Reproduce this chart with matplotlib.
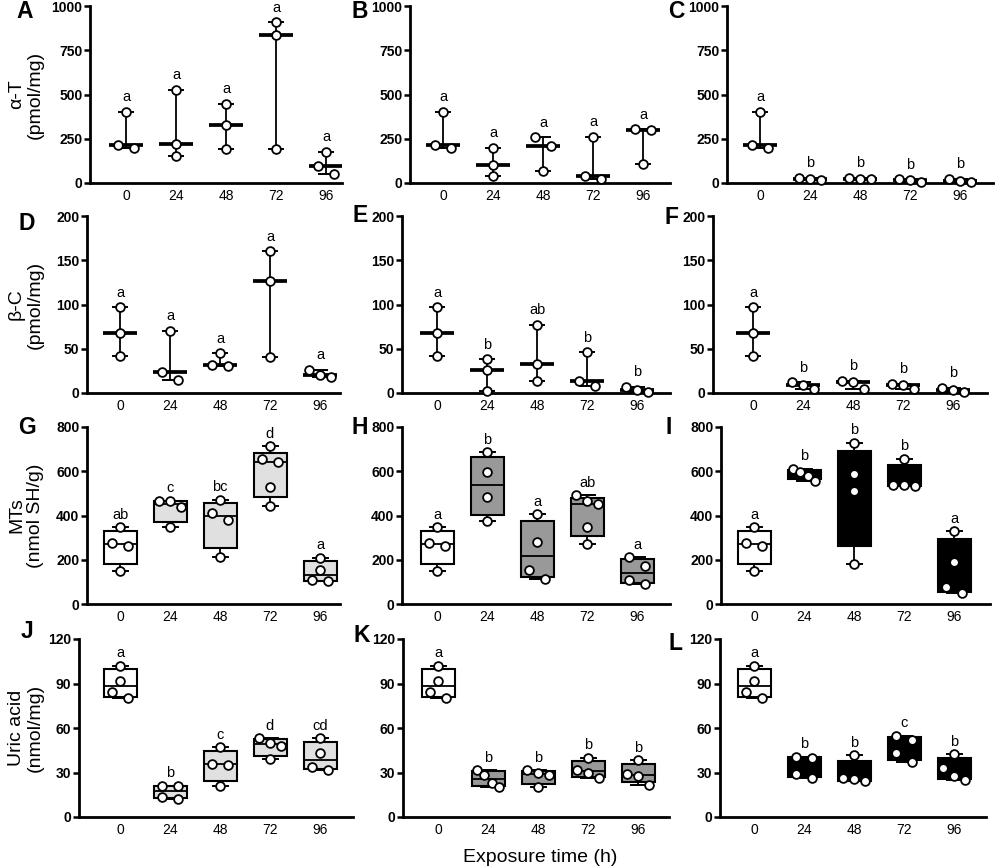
import numpy as np
import matplotlib.pyplot as plt

plt.rcParams['font.family'] = ['Liberation Sans', 'DejaVu Sans']

times = ['0', '24', '48', '72', '96']

# alpha-tocopherol (pmol/mg), 3 replicates per exposure time
alpha_t_A = [[402, 217, 198], [528, 223, 153], [449, 330, 194], [907, 836, 194], [175, 94, 51]]
alpha_t_B = [[402, 217, 198], [198, 100, 38], [258, 208, 70], [260, 40, 25], [304, 298, 106]]
alpha_t_C = [[402, 217, 198], [28, 25, 19], [28, 25, 22], [21, 17, 6], [24, 13, 4]]
letters_A = ['a', 'a', 'a', 'a', 'a']
letters_B = ['a', 'a', 'a', 'a', 'a']
letters_C = ['a', 'b', 'b', 'b', 'b']

# beta-carotene (pmol/mg)
beta_c_D = [[97, 68, 42], [70, 24, 15], [45, 32, 31], [160, 126, 41], [26, 20, 18]]
beta_c_E = [[97, 68, 42], [38, 26, 2], [77, 33, 14], [46, 13, 8], [7, 3, 1]]
beta_c_F = [[97, 68, 42], [12, 9, 5], [13.5, 12, 5], [10.5, 9.5, 5], [6, 3, 1]]
letters_D = ['a', 'a', 'a', 'a', 'a']
letters_E = ['a', 'b', 'ab', 'b', 'b']
letters_F = ['a', 'b', 'b', 'b', 'b']

# metallothioneins (nmol SH/g)
mts_G = [[346, 275, 264, 151], [466, 464, 438, 350], [471, 413, 380, 213],
         [712, 657, 640, 527, 444], [210, 153, 108, 103]]
mts_H = [[346, 275, 264, 151], [685, 595, 483, 373], [405, 280, 155, 113],
         [492, 466, 453, 346, 272], [211, 172, 109, 91]]
mts_I = [[346, 275, 264, 151], [610, 596, 580, 557], [728, 589, 509, 181],
         [657, 538, 536, 534], [328, 188, 78, 48]]
letters_G = ['ab', 'c', 'bc', 'd', 'a']
letters_H = ['a', 'b', 'a', 'ab', 'a']
letters_I = ['a', 'b', 'b', 'b', 'a']

# uric acid (nmol/mg)
uric_J = [[102, 92, 84.5, 80], [21.2, 20.8, 13.8, 12.3], [47, 36, 35, 21],
          [53, 50, 48, 39], [53, 43, 34, 31.5]]
uric_K = [[102, 92, 84.5, 80], [31.6, 28.2, 22.6, 20.3], [31.5, 30, 28, 20],
          [39.9, 31.6, 29.8, 26.4], [38.3, 29.3, 27.5, 21.9]]
uric_L = [[102, 92, 84.5, 80], [40.6, 39.5, 28.9, 26.6], [41.7, 26.4, 25.7, 24.1],
          [54.6, 51.9, 42.9, 37.2], [42.2, 32.7, 27.7, 24.8]]
letters_J = ['a', 'b', 'c', 'd', 'cd']
letters_K = ['a', 'b', 'b', 'b', 'b']
letters_L = ['a', 'b', 'b', 'c', 'b']

row_ticks = [[0, 250, 500, 750, 1000], [0, 50, 100, 150, 200],
             [0, 200, 400, 600, 800], [0, 30, 60, 90, 120]]
row_labels = ['α-T\n(pmol/mg)', 'β-C\n(pmol/mg)', 'MTs\n(nmol SH/g)', 'Uric acid\n(nmol/mg)']
col_fill = ['#e0e0e0', '#999999', 'black']

panels = [
    [('A', alpha_t_A, letters_A), ('B', alpha_t_B, letters_B), ('C', alpha_t_C, letters_C)],
    [('D', beta_c_D, letters_D), ('E', beta_c_E, letters_E), ('F', beta_c_F, letters_F)],
    [('G', mts_G, letters_G), ('H', mts_H, letters_H), ('I', mts_I, letters_I)],
    [('J', uric_J, letters_J), ('K', uric_K, letters_K), ('L', uric_L, letters_L)],
]

# pixel layout: left, right, top, bottom, x of first category
W, H = 996, 868
layout = {
    'A': (90, 342, 6, 183, 126), 'B': (410, 670, 6, 183, 443), 'C': (727, 993, 6, 183, 760),
    'D': (87, 340, 216, 393, 120), 'E': (402, 670, 216, 393, 437), 'F': (713, 987, 216, 393, 753),
    'G': (87, 340, 427, 604, 120), 'H': (402, 670, 427, 604, 437), 'I': (721, 990, 427, 604, 754),
    'J': (79, 353, 639, 817, 120), 'K': (403, 669, 639, 817, 438), 'L': (720, 986, 639, 817, 754),
}
letter_pos = {
    'A': (25, 12), 'B': (360, 12), 'C': (676, 12),
    'D': (27, 223), 'E': (360, 216), 'F': (671, 218),
    'G': (27, 428), 'H': (360, 428), 'I': (669, 428),
    'J': (27, 631), 'K': (362, 636), 'L': (675, 643),
}
SPACING = 50.0  # px between categories


def swarm(vals, px_per_unit, thresh=9.5, step=16, span=22):
    vals = np.asarray(vals, float)
    order = np.argsort(-vals, kind='stable')
    clusters = [[order[0]]]
    for i in order[1:]:
        prev = clusters[-1][-1]
        if (vals[prev] - vals[i]) * px_per_unit < thresh:
            clusters[-1].append(i)
        else:
            clusters.append([i])
    offs = np.zeros(len(vals))
    for c in clusters:
        k = len(c)
        if k > 1:
            s = min(step, span / (k - 1))
            for j, idx in enumerate(c):
                offs[idx] = (j - (k - 1) / 2) * s
    return offs / SPACING


def box_stats(v):
    q1, med, q3 = np.percentile(v, [25, 50, 75], method='weibull')
    return dict(med=med, q1=q1, q3=q3, whislo=min(v), whishi=max(v), fliers=[])


fig = plt.figure(figsize=(W / 100, H / 100), dpi=100)

for r, row in enumerate(panels):
    ticks = row_ticks[r]
    ymax = ticks[-1]
    for c, (name, groups, letters) in enumerate(row):
        left, right, top, bottom, x0 = layout[name]
        ax = fig.add_axes([left / W, 1 - bottom / H, (right - left) / W, (bottom - top) / H])
        ax.set_xlim((left - x0) / SPACING, (right - x0) / SPACING)
        ax.set_ylim(0, ymax)
        px_per_unit = (bottom - top) / ymax
        pos = np.arange(len(times))

        if r < 2:
            # median with range
            for i, g in enumerate(groups):
                lo, hi, med = min(g), max(g), np.median(g)
                ax.vlines(i, lo, hi, color='black', lw=1.3, zorder=2)
                ax.hlines([lo, hi], i - 0.16, i + 0.16, color='black', lw=1.4, zorder=2)
                ax.hlines(med, i - 0.34, i + 0.34, color='black', lw=2.7, zorder=2)
        else:
            stats = [box_stats(g) for g in groups]
            bp = ax.bxp(stats, positions=pos, widths=0.66, patch_artist=True,
                        showfliers=False, capwidths=0.3,
                        boxprops=dict(lw=1.5, edgecolor='black'),
                        whiskerprops=dict(lw=1.3, color='black'),
                        capprops=dict(lw=1.4, color='black'),
                        medianprops=dict(lw=1.3, color='black'))
            for i, patch in enumerate(bp['boxes']):
                patch.set_facecolor('white' if i == 0 else col_fill[c])

        for i, g in enumerate(groups):
            offs = swarm(g, px_per_unit)
            ax.plot(i + offs, g, 'o', ms=6.3, mfc='white', mec='black', mew=1.3,
                    ls='none', zorder=4, clip_on=False)
            ax.annotate(letters[i], (i, max(g)), xytext=(0, 5.5 if r < 2 else 4),
                        textcoords='offset points', ha='center', va='bottom',
                        fontsize=10.5)

        for s in ['top', 'right']:
            ax.spines[s].set_visible(False)
        for s in ['left', 'bottom']:
            ax.spines[s].set_linewidth(2)
        ax.set_yticks(ticks)
        ax.set_yticklabels([str(t) for t in ticks], fontweight='bold', fontsize=10)
        ax.set_xticks(pos)
        ax.set_xticklabels(times, fontsize=10)
        ax.tick_params(axis='x', length=0, pad=4.5)
        ax.tick_params(axis='y', length=4, width=1.8, pad=1.5)

        lx, ly = letter_pos[name]
        fig.text(lx / W, 1 - ly / H, name, fontsize=16.5, fontweight='bold',
                 ha='center', va='center')
        if c == 0:
            fig.text(26 / W, 1 - (top + bottom) / 2 / H, row_labels[r], fontsize=14,
                     rotation=90, ha='center', va='center', multialignment='center',
                     linespacing=1.15)

fig.text(540 / W, 1 - 857 / H, 'Exposure time (h)', fontsize=14, ha='center', va='center')

plt.savefig('out.png', dpi=100)
